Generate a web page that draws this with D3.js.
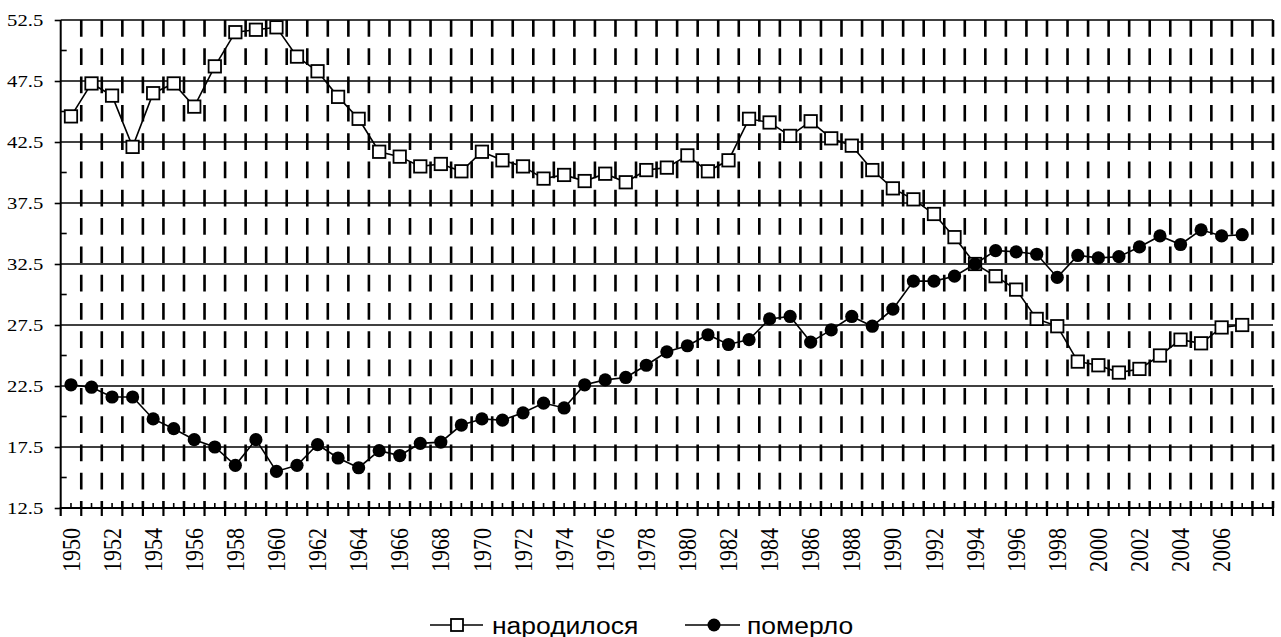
<!DOCTYPE html>
<html>
<head>
<meta charset="utf-8">
<script src="https://cdn.jsdelivr.net/npm/d3@7"></script>
<style>
  body { margin: 0; background: #fff; }
  svg { display: block; }
</style>
</head>
<body>
<svg id="chart" width="1281" height="637"></svg>
<script>
// years on the category axis (the last slot is empty in the original)
const years = [1950,1951,1952,1953,1954,1955,1956,1957,1958,1959,
  1960,1961,1962,1963,1964,1965,1966,1967,1968,1969,
  1970,1971,1972,1973,1974,1975,1976,1977,1978,1979,
  1980,1981,1982,1983,1984,1985,1986,1987,1988,1989,
  1990,1991,1992,1993,1994,1995,1996,1997,1998,1999,
  2000,2001,2002,2003,2004,2005,2006,2007,2008];

const yearLabels = [1950,1952,1954,1956,1958,1960,1962,1964,1966,1968,
  1970,1972,1974,1976,1978,1980,1982,1984,1986,1988,
  1990,1992,1994,1996,1998,2000,2002,2004,2006];

// народилося
const born = [44.6,47.3,46.3,42.1,46.5,47.3,45.4,48.7,51.5,51.7,
  51.9,49.5,48.3,46.2,44.4,41.7,41.3,40.5,40.7,40.1,
  41.7,41.0,40.5,39.5,39.8,39.3,39.9,39.2,40.2,40.4,
  41.4,40.1,41.0,44.4,44.1,43.0,44.2,42.8,42.2,40.2,
  38.7,37.8,36.6,34.7,32.5,31.5,30.4,28.0,27.4,24.5,
  24.2,23.6,23.9,25.0,26.3,26.0,27.3,27.5];

// померло
const died = [22.6,22.4,21.6,21.6,19.8,19.0,18.1,17.5,16.0,18.1,
  15.5,16.0,17.7,16.6,15.8,17.2,16.8,17.8,17.9,19.3,
  19.8,19.7,20.3,21.1,20.7,22.6,23.0,23.2,24.2,25.3,
  25.8,26.7,25.9,26.3,28.0,28.2,26.1,27.1,28.2,27.4,
  28.8,31.1,31.1,31.5,32.5,33.6,33.5,33.3,31.4,33.2,
  33.0,33.1,33.9,34.8,34.1,35.3,34.8,34.9];

const yTicks = [12.5,17.5,22.5,27.5,32.5,37.5,42.5,47.5,52.5];
const yMinor = [15,20,25,30,35,40,45,50];

const seriesNames = ["народилося", "померло"];

const serifFont = "'Liberation Serif'";
const sansFont = "'Liberation Sans'";

const svg = d3.select("#chart");
const pLeft = 60.7, pRight = 1273, pTop = 20, pBottom = 508;
const stretch = 1.18; // original picture is a little wider than tall

let x = d3.scaleBand().domain(years).range([pLeft, pRight]).padding(0);
let y = d3.scaleLinear().domain([12.5, 52.5]).range([pBottom, pTop]);
let cx = d => x(d) + x.bandwidth() / 2;

// vertical dashed gridlines on category boundaries
let bounds = years.slice(1).map(d => x(d)).concat([pRight]);
svg.append("g")
  .selectAll("line")
  .data(bounds)
  .enter().append("line")
  .attr("x1", d => d).attr("x2", d => d)
  .attr("y1", pTop).attr("y2", pBottom)
  .attr("stroke", "#000")
  .attr("stroke-width", 2.6)
  .attr("stroke-dasharray", "16.7,11.6");

// horizontal gridlines
svg.append("g")
  .selectAll("line")
  .data(yTicks.slice(1))
  .enter().append("line")
  .attr("x1", pLeft).attr("x2", pRight)
  .attr("y1", d => y(d)).attr("y2", d => y(d))
  .attr("stroke", "#000")
  .attr("stroke-width", 1.6);

// y axis
let yAxis = svg.append("g")
  .attr("transform", "translate(" + pLeft + ",0)")
  .call(d3.axisLeft(y).tickValues(yTicks).tickSize(6).tickFormat(d3.format(".1f")));
yAxis.select(".domain").attr("stroke-width", 2).attr("d", "M0," + pTop + "V" + pBottom);
yAxis.selectAll(".tick line").attr("stroke-width", 1.6);
yAxis.selectAll(".tick text")
  .attr("x", null).attr("dy", null)
  .attr("dominant-baseline", "central")
  .attr("transform", "translate(-17.5,0) scale(" + stretch + ",1)")
  .style("font-family", serifFont)
  .style("font-size", "17.5px")
  .attr("fill", "#000");

// y minor ticks (inside)
svg.append("g")
  .selectAll("line")
  .data(yMinor)
  .enter().append("line")
  .attr("x1", pLeft).attr("x2", pLeft + 6)
  .attr("y1", d => y(d)).attr("y2", d => y(d))
  .attr("stroke", "#000").attr("stroke-width", 1.6);

// x axis line + ticks
svg.append("line")
  .attr("x1", pLeft - 1).attr("x2", pRight + 1)
  .attr("y1", pBottom).attr("y2", pBottom)
  .attr("stroke", "#000").attr("stroke-width", 2);

svg.append("g")
  .selectAll("line")
  .data([pLeft].concat(bounds))
  .enter().append("line")
  .attr("x1", d => d).attr("x2", d => d)
  .attr("y1", pBottom).attr("y2", pBottom + 8)
  .attr("stroke", "#000").attr("stroke-width", 2.2);

svg.append("g")
  .selectAll("line")
  .data(years)
  .enter().append("line")
  .attr("x1", d => cx(d)).attr("x2", d => cx(d))
  .attr("y1", pBottom - 5).attr("y2", pBottom)
  .attr("stroke", "#000").attr("stroke-width", 1.6);

// x labels, rotated
svg.append("g")
  .selectAll("text")
  .data(yearLabels)
  .enter().append("text")
  .attr("transform", d => "translate(" + cx(d) + "," + (pBottom + 20) + ") scale(" + stretch + ",1) rotate(-90)")
  .attr("text-anchor", "end")
  .attr("dy", "0.33em")
  .style("font-family", serifFont)
  .style("font-size", "22px")
  .text(d => d);

// series
let line = d3.line()
  .x((d, i) => cx(years[i]))
  .y(d => y(d));

svg.append("path")
  .datum(born)
  .attr("d", line)
  .attr("fill", "none")
  .attr("stroke", "#000")
  .attr("stroke-width", 1.6);

svg.append("g")
  .selectAll("rect")
  .data(born)
  .enter().append("rect")
  .attr("x", (d, i) => cx(years[i]) - 6.2)
  .attr("y", d => y(d) - 6.2)
  .attr("width", 12.4).attr("height", 12.4)
  .attr("fill", "#fff")
  .attr("stroke", "#000")
  .attr("stroke-width", 1.8);

svg.append("path")
  .datum(died)
  .attr("d", line)
  .attr("fill", "none")
  .attr("stroke", "#000")
  .attr("stroke-width", 1.6);

svg.append("g")
  .selectAll("circle")
  .data(died)
  .enter().append("circle")
  .attr("cx", (d, i) => cx(years[i]))
  .attr("cy", d => y(d))
  .attr("r", 6.6)
  .attr("fill", "#000");

// legend
let legendY = 625;
let legend = svg.append("g");

let lg1 = legend.append("g").attr("transform", "translate(430," + legendY + ")");
lg1.append("line").attr("x1", 0).attr("x2", 53).attr("y1", 0).attr("y2", 0)
  .attr("stroke", "#000").attr("stroke-width", 1.6);
lg1.append("rect").attr("x", 27 - 6).attr("y", -6).attr("width", 12).attr("height", 12)
  .attr("fill", "#fff").attr("stroke", "#000").attr("stroke-width", 1.8);
lg1.append("text")
  .attr("transform", "translate(62,0) scale(1.08,1)")
  .attr("dominant-baseline", "central")
  .style("font-family", sansFont)
  .style("font-size", "24.5px")
  .text(seriesNames[0]);

let lg2 = legend.append("g").attr("transform", "translate(685," + legendY + ")");
lg2.append("line").attr("x1", 0).attr("x2", 55).attr("y1", 0).attr("y2", 0)
  .attr("stroke", "#000").attr("stroke-width", 1.6);
lg2.append("circle").attr("cx", 29).attr("cy", 0).attr("r", 6.5).attr("fill", "#000");
lg2.append("text")
  .attr("transform", "translate(62,0) scale(1.08,1)")
  .attr("dominant-baseline", "central")
  .style("font-family", sansFont)
  .style("font-size", "24.5px")
  .text(seriesNames[1]);
</script>
</body>
</html>
